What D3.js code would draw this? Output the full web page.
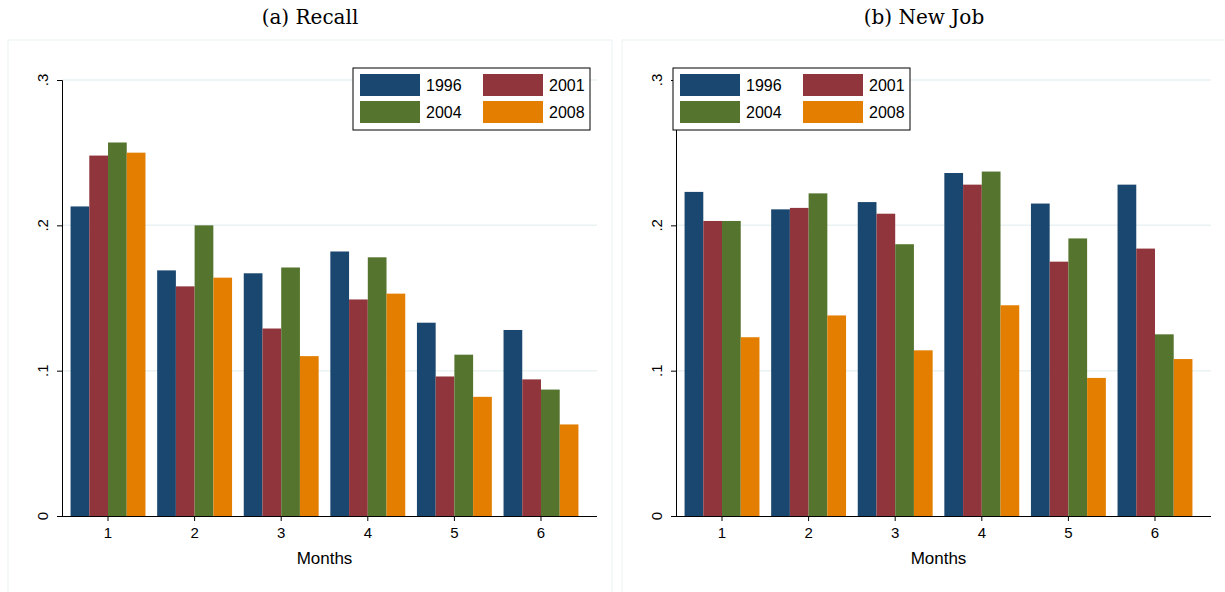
<!DOCTYPE html>
<html><head><meta charset="utf-8">
<script src="https://cdn.jsdelivr.net/npm/d3@7"></script>
<style>body{margin:0;background:#fff;font-family:"Liberation Sans",Arial,sans-serif}</style>
</head><body><div id="chart"></div>
<script>
const months = [1, 2, 3, 4, 5, 6];
const years = ["1996", "2001", "2004", "2008"];
const colors = ["#1a476f", "#90353b", "#55752f", "#e37e00"];
const yTicks = [0, 0.1, 0.2, 0.3];
const yTickLabels = ["0", ".1", ".2", ".3"];
const recall = [
  [0.213, 0.169, 0.167, 0.182, 0.133, 0.128],
  [0.248, 0.158, 0.129, 0.149, 0.096, 0.094],
  [0.257, 0.200, 0.171, 0.178, 0.111, 0.087],
  [0.250, 0.164, 0.110, 0.153, 0.082, 0.063]
];
const newJob = [
  [0.223, 0.211, 0.216, 0.236, 0.215, 0.228],
  [0.203, 0.212, 0.208, 0.228, 0.175, 0.184],
  [0.203, 0.222, 0.187, 0.237, 0.191, 0.125],
  [0.123, 0.138, 0.114, 0.145, 0.095, 0.108]
];

const svg = d3.select("#chart").append("svg").attr("width", 1225).attr("height", 592);

function panel(x0, title, data, legendX) {
  const g = svg.append("g").attr("transform", `translate(${x0},0)`);
  g.append("rect").attr("x", 0).attr("y", 40).attr("width", 604).attr("height", 560)
    .attr("fill", "#fff").attr("stroke", "#eaf2f3").attr("stroke-width", 1);
  g.append("text").attr("x", 302).attr("y", 24).attr("text-anchor", "middle")
    .attr("font-family", "DejaVu Serif, serif").attr("font-size", 20).text(title);

  const left = 54, right = 589, bottom = 516;
  const x = d3.scaleBand().domain(months).range([56.5, 576.5]).paddingInner(0.135).paddingOuter(0.07);
  const y = d3.scaleLinear().domain([0, 0.3]).range([bottom, 80]);
  const xs = d3.scaleBand().domain(years).range([0, x.bandwidth()]);

  g.selectAll(".grid").data(yTicks.slice(1)).join("line")
    .attr("x1", left).attr("x2", right).attr("y1", d => y(d)).attr("y2", d => y(d))
    .attr("stroke", "#eaf2f3").attr("stroke-width", 1.5);

  years.forEach((yr, i) => {
    g.selectAll(null).data(data[i]).join("rect")
      .attr("x", (d, j) => x(months[j]) + xs(yr))
      .attr("width", xs.bandwidth())
      .attr("y", d => y(d)).attr("height", d => bottom - y(d))
      .attr("fill", colors[i]);
  });

  const ya = g.append("g").attr("transform", `translate(${left},0)`)
    .call(d3.axisLeft(y).tickValues(yTicks).tickFormat("").tickSize(5));
  ya.select(".domain").attr("stroke", "#000");
  g.selectAll(".ylab").data(yTicks).join("text")
    .attr("transform", d => `translate(${left - 14},${y(d)}) rotate(-90)`)
    .attr("text-anchor", "middle").attr("font-size", 15)
    .text((d, i) => yTickLabels[i]);

  const xa = g.append("g").attr("transform", `translate(0,${bottom})`)
    .call(d3.axisBottom(x).tickSize(5).tickSizeOuter(0).tickPadding(6));
  xa.select(".domain").attr("d", `M${left},0.5H${right}`).attr("stroke", "#000");
  xa.selectAll("text").attr("font-size", 15);
  g.append("text").attr("x", (x(1) + x(6) + x.bandwidth()) / 2).attr("y", 564)
    .attr("text-anchor", "middle").attr("font-size", 17).text("Months");

  const lg = g.append("g").attr("transform", `translate(${legendX},68)`);
  lg.append("rect").attr("width", 237).attr("height", 62).attr("fill", "#fff").attr("stroke", "#000");
  years.forEach((yr, i) => {
    const cx = 7 + (i % 2) * 123, cy = 6 + Math.floor(i / 2) * 27;
    lg.append("rect").attr("x", cx).attr("y", cy).attr("width", 60).attr("height", 22).attr("fill", colors[i]);
    lg.append("text").attr("x", cx + 66).attr("y", cy + 17).attr("font-size", 16).text(yr);
  });
}

panel(8, "(a) Recall", recall, 345);
panel(622, "(b) New Job", newJob, 51);
</script></body></html>
